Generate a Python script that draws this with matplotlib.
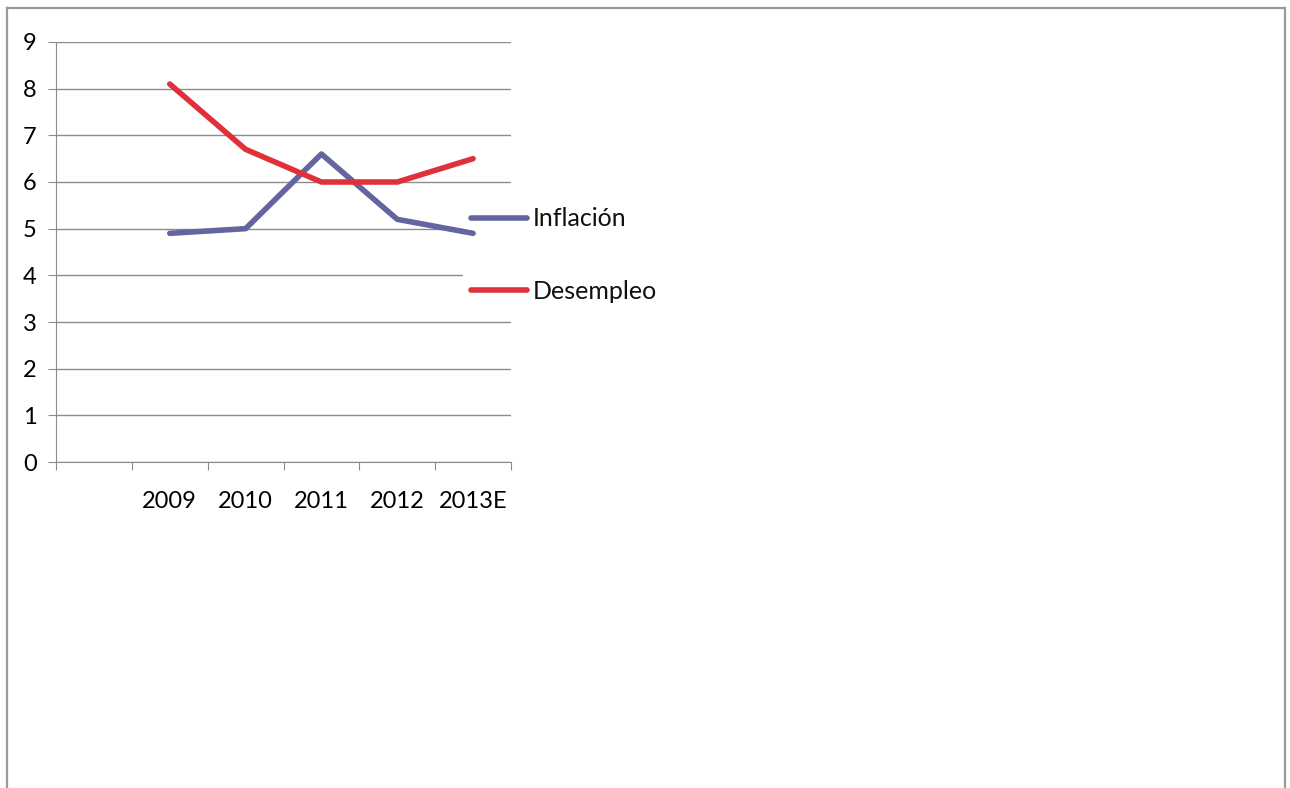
import numpy as np
import matplotlib
matplotlib.use("Agg")
import matplotlib.pyplot as plt
from matplotlib.lines import Line2D

categories = ["", "2009", "2010", "2011", "2012", "2013E"]
inflacion = [np.nan, 4.9, 5.0, 6.6, 5.2, 4.9]
desempleo = [np.nan, 8.1, 6.7, 6.0, 6.0, 6.5]
series_names = ["Inflación", "Desempleo"]
y_ticks = [0, 1, 2, 3, 4, 5, 6, 7, 8, 9]

plt.rcParams['font.family'] = ['Lato', 'DejaVu Sans']

W, H = 1290, 788
fig = plt.figure(figsize=(W / 100, H / 100), dpi=100)
fig.patch.set_facecolor("white")

# outer frame (left, top, right)
bc = "#9a9a9a"
fig.add_artist(Line2D([6.5 / W, 6.5 / W], [0, 1 - 8 / H], transform=fig.transFigure, color=bc, lw=1.6))
fig.add_artist(Line2D([6.5 / W, 1284.5 / W], [1 - 8 / H, 1 - 8 / H], transform=fig.transFigure, color=bc, lw=1.6))
fig.add_artist(Line2D([1284.5 / W, 1284.5 / W], [0, 1 - 8 / H], transform=fig.transFigure, color=bc, lw=1.6))

left, right, top, bottom = 56, 511, 42, 462
ax = fig.add_axes([left / W, 1 - bottom / H, (right - left) / W, (bottom - top) / H])

x = np.arange(len(categories))
ax.plot(x, inflacion, color="#64649e", lw=4.0, solid_capstyle="round", solid_joinstyle="round", label=series_names[0], zorder=3)
ax.plot(x, desempleo, color="#e0303a", lw=4.0, solid_capstyle="round", solid_joinstyle="round", label=series_names[1], zorder=3)

ax.set_xlim(-0.5, len(categories) - 0.5)
ax.set_ylim(0, 9)
ax.set_yticks(y_ticks)
ax.set_yticklabels([str(v) for v in y_ticks], fontsize=17)
ax.yaxis.grid(True, color="#8c8c8c", lw=1.0)
ax.set_axisbelow(True)

ax.set_xticks(np.arange(-0.5, len(categories), 1.0))
ax.set_xticklabels([])
ax.set_xticks(x, minor=True)
ax.set_xticklabels(categories, minor=True, fontsize=17)
ax.tick_params(axis="x", which="minor", length=0, pad=21)
ax.tick_params(axis="x", which="major", length=6, color="#8c8c8c", direction="out")
ax.tick_params(axis="y", length=6, color="#8c8c8c", direction="out", pad=8)

for s in ["top", "right"]:
    ax.spines[s].set_visible(False)
ax.spines["left"].set_color("#8c8c8c")
ax.spines["bottom"].set_color("#8c8c8c")

leg = ax.legend(loc="upper left", bbox_to_anchor=(463 / W, 1 - 200 / H), bbox_transform=fig.transFigure,
                frameon=True, fontsize=18, handlelength=2.24, handletextpad=0.24,
                labelspacing=1.97, borderpad=0.3, borderaxespad=0)
leg.get_frame().set_facecolor("white")
leg.get_frame().set_edgecolor("none")
leg.get_frame().set_alpha(1)
leg.set_zorder(2.5)
for t in leg.get_texts():
    t.set_color("#111111")

fig.savefig("out.png", dpi=100, facecolor="white")
